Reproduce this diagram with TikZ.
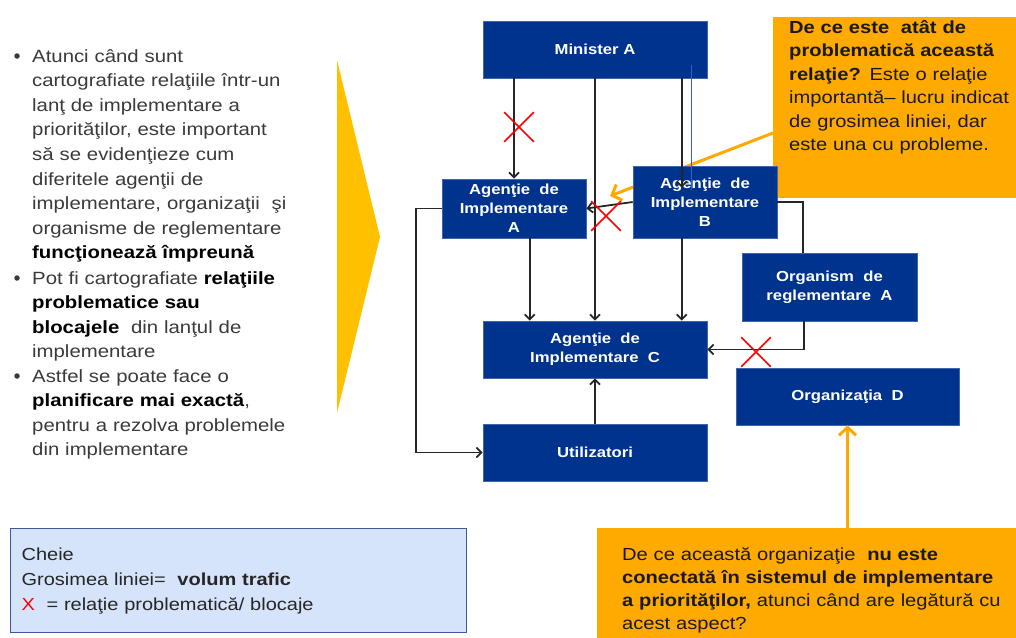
\documentclass[tikz,border=0pt]{standalone}
\usepackage{fontspec}
\setmainfont[FakeStretch=1.15]{Liberation Sans}
\usetikzlibrary{positioning,calc,arrows.meta,shapes.misc}
\definecolor{cBox}{HTML}{00338D}
\definecolor{cGold}{HTML}{FFC000}
\definecolor{cCall}{HTML}{FFAA00}
\definecolor{cKey}{HTML}{D6E4FB}
\definecolor{cKeyLine}{HTML}{3D5B9B}
\definecolor{cTxt}{HTML}{3A3A3A}
\definecolor{cThin}{HTML}{3060D0}
\newcommand\hl[1]{\textbf{\color{black}#1}}

\begin{document}
\begin{tikzpicture}[x=1pt, y=-1pt,
  blk/.style  = {draw=cBox!75!white, line width=0.6pt, fill=cBox, text=white,
                 align=center, inner sep=0pt,
                 font=\fontsize{14.5}{19}\selectfont\bfseries},
  call/.style = {fill=cCall, inner sep=0pt, anchor=north west},
  ctxt/.style = {anchor=north west, align=left, text=black!90, inner sep=0pt,
                 font=\fontsize{17.5}{23.5}\selectfont},
  txt/.style  = {anchor=base west, align=left, text=cTxt, inner sep=0pt,
                 text width=310, font=\fontsize{17.7}{24.6}\selectfont},
  blt/.style  = {circle, fill=cTxt, inner sep=0pt, minimum size=5.5},
  ar/.style   = {-{Straight Barb[length=5pt,width=10pt]}, draw=black!85, line width=1.8pt},
  ln/.style   = {draw=black!85, line width=1.8pt},
  xm/.style   = {cross out, draw=red, line width=1.6pt, minimum size=28, inner sep=0pt},
  oar/.style  = {-{Straight Barb[length=8pt,width=17pt]}, draw=cCall, line width=3pt},
]
\useasboundingbox (0,0) rectangle (1016,637);

% left column
\node[txt] (i1) at (32,62) {Atunci când sunt\\
  cartografiate relaţiile într-un\\
  lanţ de implementare a\\
  priorităţilor, este important\\
  să se evidenţieze cum\\
  diferitele agenţii de\\
  implementare, organizaţii \ şi\\
  organisme de reglementare\\
  \hl{funcţionează împreună}};
\node[txt] (i2) at (32,284) {Pot fi cartografiate \hl{relaţiile}\\
  \hl{problematice sau}\\
  \hl{blocajele} \ din lanţul de\\
  implementare};
\node[txt] (i3) at (32,382) {Astfel se poate face o\\
  \hl{planificare mai exactă},\\
  pentru a rezolva problemele\\
  din implementare};
\foreach \i in {1,2,3}
  \node[blt] (b\i) at ($(i\i.base west)+(-15,-6)$) {};

\fill[cGold] (337,60) -- (380,237) -- (337,413) -- cycle;

% first callout goes under box B
\node[call, minimum width=244, minimum height=181] (note1) at (773,17) {};
\node[ctxt, text width=226] (note1t) at ($(note1.north west)+(16,3)$) {%
  \textbf{De ce este \ atât de}\\
  \textbf{problematică această}\\
  \textbf{relaţie?} Este o relaţie\\
  importantă– lucru indicat\\
  de grosimea liniei, dar\\
  este una cu probleme.};
\coordinate (tipA) at (610,196);
\draw[oar] ($(note1.north west)+(0,116)$) -- (tipA);

% boxes
\node[blk, minimum width=224, minimum height=57] (minA) at (595,49.5) {Minister A};
\node[blk, minimum width=144, minimum height=59] (agA)  at (514,208.5)
  {Agenţie \ de\\Implementare\\A};
\node[blk, minimum width=144, minimum height=72] (agB)  at (705,202)
  {Agenţie \ de\\Implementare\\B};
\node[blk, minimum width=175, minimum height=68] (orgA) at (829.5,287)
  {Organism \ de\\reglementare \ A};
\node[blk, minimum width=224, minimum height=57] (agC)  at (595,349.5)
  {Agenţie \ de\\Implementare \ C};
\node[blk, minimum width=223, minimum height=57] (orgD) at (847.5,396.5)
  {Organizaţia \ D};
\node[blk, minimum width=224, minimum height=57] (util) at (595,452.5) {Utilizatori};

% links
\coordinate (aC) at ($(agA.south west)+(88,0)$);
\coordinate (bC) at ($(agB.south west)+(49,0)$);
\coordinate (oT) at ($(orgA.north west)+(61,0)$);
\coordinate (oS) at ($(orgA.south west)+(62,0)$);
\draw[ar] (agA.north |- minA.south) -- (agA.north);
\draw[ar] (minA.south) -- (agC.north);
\draw[ar] ($(minA.south west)+(199,0)$) -- ($(agB.north west)+(49,22)$);
\draw[cThin, line width=1pt] ($(minA.south west)+(209,-13)$) -- ($(agB.north west)+(59,24)$);
\draw[ar] (agB.west) -- (agA.east);
\draw[ar] (aC) -- (aC |- agC.north);
\draw[ar] (bC) -- (bC |- agC.north);
\draw[ar] (agA.west) -- ++(-26,0) |- (util.west);
\draw[ar] (util.north) -- (agC.south);
\draw[ln] (agB.east) -| (oT);
\draw[ar] (oS) |- (agC.east);

% problem marks
\node[xm] (x1) at (519,127) {};
\node[xm] (x2) at (606,216) {};
\node[xm] (x3) at (756,352) {};

% second callout
\node[call, minimum width=420, minimum height=124, inner xsep=25,
      align=left, text width=396, text=black!90,
      font=\fontsize{17.5}{23}\selectfont] (note2) at (597,528) {%
  De ce această organizaţie \ \textbf{nu este}\\
  \textbf{conectată în sistemul de implementare}\\
  \textbf{a priorităţilor,} atunci când are legătură cu\\
  acest aspect?};
\draw[oar] (orgD.south |- note2.north) -- (orgD.south);

% key
\node[draw=cKeyLine, line width=1.2pt, fill=cKey, anchor=north west,
      minimum width=456, minimum height=104, inner xsep=11, inner ysep=0pt,
      text width=434, align=left, text=black!85,
      font=\fontsize{17.4}{25}\selectfont] (key) at (10,528) {%
  Cheie\\
  Grosimea liniei= \ \textbf{volum trafic}\\
  \textcolor{red}{X} \ = relaţie problematică/ blocaje};
\end{tikzpicture}
\end{document}
